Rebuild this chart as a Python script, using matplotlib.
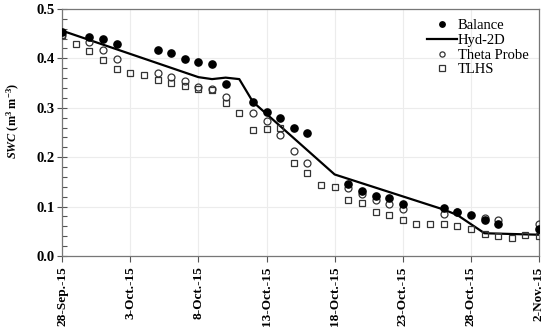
import matplotlib
matplotlib.use("Agg")
import matplotlib.pyplot as plt
import numpy as np
import datetime as dt

plt.rcParams['font.family'] = ['Liberation Serif', 'DejaVu Serif']
plt.rcParams['mathtext.fontset'] = 'custom'
plt.rcParams['mathtext.rm'] = 'Liberation Serif:bold'
plt.rcParams['mathtext.it'] = 'Liberation Serif:italic:bold'
plt.rcParams['mathtext.bf'] = 'Liberation Serif:bold'

start = dt.date(2015, 9, 28)

# Balance (filled circles)
bal_day = [0, 2, 3, 4, 7, 8, 9, 10, 11, 12, 14, 15, 16, 17, 18, 21, 22, 23, 24, 25, 28, 29, 30, 31, 32, 35]
bal_val = [0.453, 0.443, 0.440, 0.430, 0.416, 0.410, 0.399, 0.392, 0.389, 0.348, 0.311, 0.292, 0.279, 0.260,
           0.249, 0.146, 0.131, 0.121, 0.117, 0.106, 0.098, 0.089, 0.082, 0.072, 0.065, 0.055]

# Hyd-2D (line)
hyd_day = [0, 10, 11, 12, 13, 14, 20, 28, 29, 31, 35]
hyd_val = [0.456, 0.362, 0.358, 0.361, 0.358, 0.312, 0.165, 0.094, 0.083, 0.046, 0.043]

# Theta Probe (open circles)
tp_day = [0, 2, 3, 4, 7, 8, 9, 10, 11, 12, 14, 15, 16, 17, 18, 21, 22, 23, 24, 25, 28, 29, 31, 32, 35]
tp_val = [0.447, 0.434, 0.416, 0.398, 0.371, 0.363, 0.354, 0.343, 0.337, 0.321, 0.290, 0.273, 0.245, 0.212,
          0.188, 0.137, 0.126, 0.113, 0.105, 0.095, 0.085, 0.090, 0.077, 0.072, 0.065]

# TLHS (open squares)
tl_day = [0, 1, 2, 3, 4, 5, 6, 7, 8, 9, 10, 11, 12, 13, 14, 15, 16, 17, 18, 19, 20, 21, 22, 23, 24, 25,
          26, 27, 28, 29, 30, 31, 32, 33, 34, 35]
tl_val = [0.448, 0.429, 0.414, 0.396, 0.378, 0.370, 0.366, 0.356, 0.351, 0.345, 0.339, 0.335, 0.310, 0.289,
          0.254, 0.257, 0.260, 0.188, 0.167, 0.144, 0.140, 0.113, 0.107, 0.090, 0.082, 0.073, 0.065, 0.064,
          0.064, 0.061, 0.055, 0.044, 0.041, 0.036, 0.043, 0.040]

tick_days = [0, 5, 10, 15, 20, 25, 30, 35]
tick_labels = ['28-Sep.-15', '3-Oct.-15', '8-Oct.-15', '13-Oct.-15', '18-Oct.-15', '23-Oct.-15',
               '28-Oct.-15', '2-Nov.-15']

def to_dates(days):
    return [start + dt.timedelta(days=d) for d in days]

fig = plt.figure(figsize=(5.5, 3.32), dpi=100)
ax = fig.add_axes([0.113, 0.229, 0.867, 0.744])

ax.grid(True, color='#ececec', linewidth=0.8, zorder=0)
ax.plot(to_dates(hyd_day), hyd_val, '-', color='black', lw=1.6, label='Hyd-2D', zorder=2)
ax.plot(to_dates(bal_day), bal_val, 'o', color='black', ms=5.2, ls='none', label='Balance', zorder=4)
ax.plot(to_dates(tp_day), tp_val, 'o', mfc='none', mec='#333333', mew=0.9, ms=5.0, ls='none',
        label='Theta Probe', zorder=3)
ax.plot(to_dates(tl_day), tl_val, 's', mfc='none', mec='#333333', mew=0.9, ms=5.0, ls='none',
        label='TLHS', zorder=3)

ax.set_xlim(start, start + dt.timedelta(days=35))
ax.set_ylim(0, 0.5)
ax.set_xticks(to_dates(tick_days))
ax.set_xticklabels(tick_labels, rotation=90, fontsize=9.5, fontweight='bold')
ax.set_yticks([0.0, 0.1, 0.2, 0.3, 0.4, 0.5])
ax.set_yticklabels(['0.0', '0.1', '0.2', '0.3', '0.4', '0.5'], fontsize=10.5, fontweight='bold')
ax.set_yticks(np.arange(0, 0.5001, 0.02), minor=True)
ax.tick_params(axis='y', which='major', direction='inout', length=7, width=0.8, color='#555555', pad=2)
ax.tick_params(axis='y', which='minor', direction='in', length=3.5, width=0.8, color='#555555')
ax.tick_params(axis='x', which='major', direction='out', length=4, width=0.8, color='#555555')
ax.tick_params(axis='x', which='minor', length=0)

for s in ax.spines.values():
    s.set_color('#777777')
    s.set_linewidth(0.9)

ax.set_ylabel(r'$\mathit{SWC}$ (m$^{3}$ m$^{-3}$)', fontsize=8.8, fontweight='bold')
ax.yaxis.set_label_coords(-0.085, 0.547)

handles, labels = ax.get_legend_handles_labels()
order = [labels.index(l) for l in ['Balance', 'Hyd-2D', 'Theta Probe', 'TLHS']]
leg = ax.legend([handles[i] for i in order], [labels[i] for i in order], loc='upper right',
                frameon=False, fontsize=10.5, markerscale=0.75, handlelength=2.0, handletextpad=0.1,
                labelspacing=0.1, borderaxespad=0.3)

fig.savefig('out.png', dpi=100)
